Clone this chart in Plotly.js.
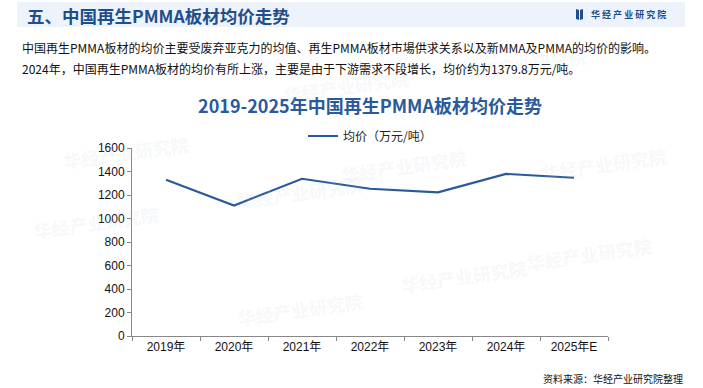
<!DOCTYPE html>
<html>
<head>
<meta charset="utf-8">
<script src="https://cdn.plot.ly/plotly-3.0.1.min.js"></script>
<style>
  html, body { margin: 0; padding: 0; background: #ffffff; }
  #chart { width: 703px; height: 388px; }
</style>
</head>
<body>
<div id="chart"></div>
<script>
// ---- data ----
const years = ["2019年", "2020年", "2021年", "2022年", "2023年", "2024年", "2025年E"];
const avgPrice = [1330, 1111, 1338, 1253, 1222, 1379.8, 1347];
const seriesName = "均价（万元/吨）";
const yTicks = [0, 200, 400, 600, 800, 1000, 1200, 1400, 1600];

const headerTitle = "五、中国再生PMMA板材均价走势";
const para1 = "中国再生PMMA板材的均价主要受废弃亚克力的均值、再生PMMA板材市場供求关系以及新MMA及PMMA的均价的影响。";
const para2 = "2024年，中国再生PMMA板材的均价有所上涨，主要是由于下游需求不段增长，均价约为1379.8万元/吨。";
const chartTitle = "2019-2025年中国再生PMMA板材均价走势";
const brand = "华 经 产 业 研 究 院";
const source = "资料来源：华经产业研究院整理";
const watermark = "华经产业研究院";

// ---- layout helpers (pixel -> paper) ----
const L = 132, R = 608, T = 148, B = 336;
const W = R - L, H = B - T;
const px = x => (x - L) / W;
const py = y => (B - y) / H;

const FONT = "Liberation Sans, Arial, 'Noto Sans CJK SC', sans-serif";
const CJK = "'Noto Sans CJK SC', 'Liberation Sans', sans-serif";

const wmPos = [[300, 168], [470, 142], [530, 300], [300, 333], [655, 278], [670, 140], [30, 222], [60, 128], [280, 62], [590, 40]];
const wmAnn = wmPos.map(p => ({
  x: px(p[0]), y: py(p[1]), xref: "paper", yref: "paper", showarrow: false,
  text: "<b>" + watermark + "</b>", textangle: -8,
  font: { family: CJK, size: 18, color: "rgba(190,200,215,0.14)" }
}));

const trace = {
  type: "scatter", mode: "lines",
  x: years, y: avgPrice, name: seriesName,
  line: { color: "#2a5a9b", width: 2.2 },
  hoverinfo: "x+y"
};

const layout = {
  width: 703, height: 388,
  margin: { l: L, r: 703 - R, t: T, b: 388 - B, pad: 0 },
  paper_bgcolor: "#ffffff", plot_bgcolor: "rgba(0,0,0,0)",
  showlegend: true,
  legend: {
    x: 0.5, y: py(136), xref: "paper", yref: "paper", xanchor: "center", yanchor: "middle",
    orientation: "h", font: { family: CJK, size: 12, color: "#222" },
    bgcolor: "rgba(0,0,0,0)", itemwidth: 30
  },
  title: {
    text: "<b>" + chartTitle + "</b>",
    x: 0.5, xref: "paper", y: 1 - 107 / 388, yanchor: "middle",
    font: { family: CJK, size: 18, color: "#2a5a9b" }
  },
  xaxis: {
    type: "category", tickson: "boundaries",
    showline: true, linecolor: "#888", linewidth: 1,
    ticks: "outside", ticklen: 4, tickcolor: "#888",
    showgrid: false, zeroline: false,
    tickfont: { family: FONT, size: 12, color: "#111" },
    range: [-0.5, 6.5]
  },
  yaxis: {
    range: [0, 1600], tickvals: yTicks, showgrid: false, zeroline: false,
    showline: true, linecolor: "#888", linewidth: 1,
    ticks: "outside", ticklen: 4, tickcolor: "#888",
    tickfont: { family: FONT, size: 12, color: "#111" }
  },
  shapes: [
    { type: "rect", xref: "paper", yref: "paper", x0: px(17), x1: px(685), y0: py(27), y1: py(2),
      fillcolor: "#eef3fb", line: { width: 0 }, layer: "below" },
    { type: "path", xref: "paper", yref: "paper",
      path: `M ${px(576)} ${py(9)} L ${px(579)} ${py(10)} L ${px(579)} ${py(20)} L ${px(576)} ${py(19)} Z`,
      fillcolor: "#1f4e8c", line: { width: 0 } },
    { type: "path", xref: "paper", yref: "paper",
      path: `M ${px(580)} ${py(10)} L ${px(583)} ${py(9)} L ${px(583)} ${py(19)} L ${px(580)} ${py(20)} Z`,
      fillcolor: "#1f4e8c", line: { width: 0 } }
  ],
  annotations: wmAnn.concat([
    { x: px(25), y: py(15), xref: "paper", yref: "paper", xanchor: "left", yanchor: "middle",
      showarrow: false, text: "<b>" + headerTitle + "</b>",
      font: { family: CJK, size: 17.5, color: "#1f4e8c" } },
    { x: px(589), y: py(14.5), xref: "paper", yref: "paper", xanchor: "left", yanchor: "middle",
      showarrow: false, text: "<b>" + brand + "</b>",
      font: { family: CJK, size: 9, color: "#1f4e8c" } },
    { x: px(20), y: py(47), xref: "paper", yref: "paper", xanchor: "left", yanchor: "middle",
      showarrow: false, text: para1, font: { family: CJK, size: 12, color: "#111" } },
    { x: px(20), y: py(68), xref: "paper", yref: "paper", xanchor: "left", yanchor: "middle",
      showarrow: false, text: para2, font: { family: CJK, size: 12, color: "#111" } },
    { x: px(685), y: py(378), xref: "paper", yref: "paper", xanchor: "right", yanchor: "middle",
      showarrow: false, text: source, font: { family: CJK, size: 10, color: "#111" } }
  ])
};

Plotly.newPlot("chart", [trace], layout, { displayModeBar: false, staticPlot: true });
</script>
</body>
</html>
